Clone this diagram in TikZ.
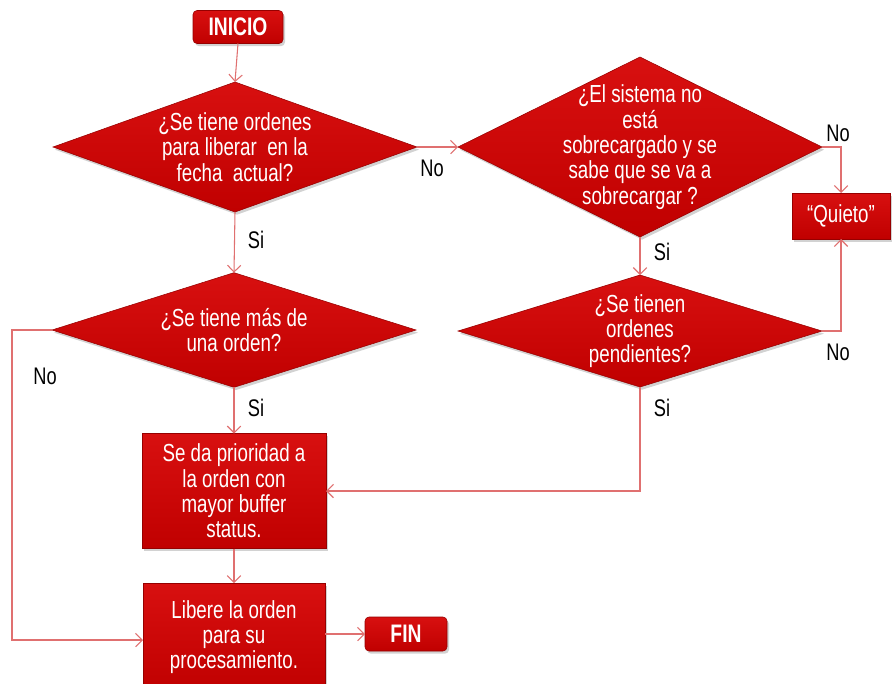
\documentclass[tikz,border=0pt]{standalone}
\usepackage{fontspec}
\setmainfont{Liberation Sans}
\newfontfamily\boxfont[FakeStretch=0.76]{Liberation Sans}
\usetikzlibrary{shapes.geometric,arrows.meta,shadows}

\definecolor{boxtop}{RGB}{216,16,16}
\definecolor{boxbot}{RGB}{192,0,0}
\definecolor{boxedge}{RGB}{150,0,0}
\definecolor{wire}{RGB}{224,112,112}

\tikzset{
  redfill/.style={top color=boxtop, bottom color=boxbot, draw=boxedge, line width=0.4pt,
    drop shadow={opacity=0.35, shadow xshift=1.5pt, shadow yshift=-2pt}},
  txt/.style={text=white, font=\boxfont\fontsize{18.5}{19}\selectfont, align=center},
  procbox/.style={redfill, rectangle, inner sep=0pt, outer sep=0pt, txt},
  termbox/.style={redfill, rectangle, rounded corners=3pt, inner sep=0pt, outer sep=0pt,
    text=white, font=\boxfont\bfseries\fontsize{19}{20}\selectfont},
  decision/.style={redfill, diamond, inner sep=0pt, outer sep=0pt},
  flow/.style={draw=wire, line width=0.8pt, -{Straight Barb[length=5pt,width=10pt]}},
  ans/.style={text=black, font=\boxfont\fontsize{18}{19}\selectfont}
}

\begin{document}
\begin{tikzpicture}[x=0.75pt, y=-0.75pt]
\clip (0,0) rectangle (893,683);
\fill[white] (0,0) rectangle (893,683);

% terminals
\node[termbox, minimum width=67.5pt, minimum height=24.75pt] (inicio) at (238,27) {INICIO};
\node[termbox, minimum width=61.5pt, minimum height=25.5pt] (fin) at (406,634) {FIN};

% decisions
\node[decision, minimum width=273pt, minimum height=97.5pt,
  label={[txt]center:{¿Se tiene ordenes\\para liberar \ en la\\fecha \ actual?}}] (d1) at (235,147) {};
\node[decision, minimum width=273pt, minimum height=135pt,
  label={[txt]center:{¿El sistema no\\está\\sobrecargado y se\\sabe que se va a\\sobrecargar ?}}] (d2) at (640,147) {};
\node[decision, minimum width=273pt, minimum height=84pt,
  label={[txt]center:{¿Se tienen\\ordenes\\pendientes?}}] (d3) at (640,331) {};
\node[decision, minimum width=273pt, minimum height=86pt,
  label={[txt]center:{¿Se tiene más de\\una orden?}}] (d4) at (234,330) {};

% processes
\node[procbox, minimum width=73.5pt, minimum height=34.5pt] (quieto) at (841,216) {“Quieto”};
\node[procbox, minimum width=138pt, minimum height=86.25pt] (prio) at (234,491)
  {Se da prioridad a\\la orden con\\mayor buffer\\status.};
\node[procbox, minimum width=136.5pt, minimum height=81pt] (libere) at (234,637)
  {Libere la orden\\para su\\procesamiento.};

% connectors
\draw[flow] (inicio.south) -- (d1.north);
\draw[flow] (d1.east) -- (d2.west);
\draw[flow] (d1.south) -- (d4.north);
\draw[flow] (d2.east) -| (quieto.north);
\draw[flow] (d3.east) -| (quieto.south);
\draw[flow] (d2.south) -- (d3.north);
\draw[flow] (d3.south) |- (prio.east);
\draw[flow] (d4.south) -- (prio.north);
\coordinate (loop) at (12,640);
\draw[flow] (d4.west) -| (loop) -- (libere.west |- loop);
\draw[flow] (prio.south) -- (libere.north);
\draw[flow] (libere.east |- fin.west) -- (fin.west);

% branch answers
\node[ans] (a1) at (432,168) {No};
\node[ans] (a2) at (256,240) {Si};
\node[ans] (a3) at (838,133) {No};
\node[ans] (a4) at (662,252) {Si};
\node[ans] (a5) at (838,352) {No};
\node[ans] (a6) at (45,376) {No};
\node[ans] (a7) at (256,408) {Si};
\node[ans] (a8) at (662,408) {Si};
\end{tikzpicture}
\end{document}
